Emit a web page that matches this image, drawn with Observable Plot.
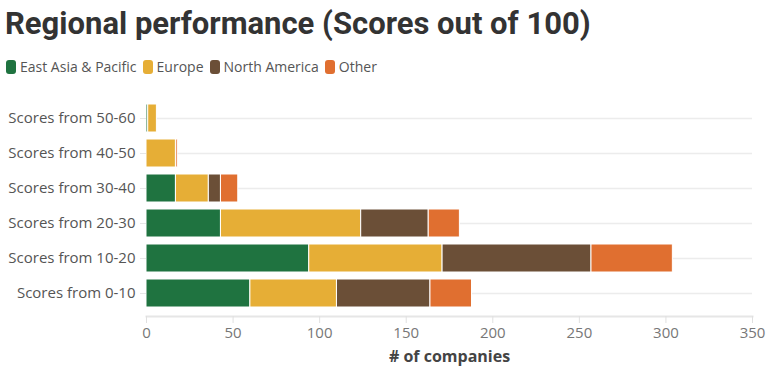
<!DOCTYPE html>
<html><head><meta charset="utf-8">
<script src="https://cdn.jsdelivr.net/npm/d3@7"></script>
<script src="https://cdn.jsdelivr.net/npm/@observablehq/plot@0.6"></script>
<style>
body{margin:0;background:#fff;width:771px;height:378px;position:relative;overflow:hidden;}
#title{position:absolute;left:5px;top:5px;font-family:Roboto,sans-serif;font-weight:700;font-size:31px;color:#333;white-space:nowrap;letter-spacing:0px;}
#legend{position:absolute;left:6px;top:57px;display:flex;align-items:center;font-family:"Open Sans",sans-serif;font-size:14px;color:#555;white-space:nowrap;}
#legend .item{display:flex;align-items:center;margin-right:6px;}
#legend .sw{width:10px;height:14px;border-radius:3px;margin-right:4px;}
#chart{position:absolute;left:0;top:88px;}
</style>
</head><body>
<div id="title">Regional performance (Scores out of 100)</div>
<div id="legend"></div>
<div id="chart"></div>
<script>
const categories = ["Scores from 0-10","Scores from 10-20","Scores from 20-30","Scores from 30-40","Scores from 40-50","Scores from 50-60"];
const regions = ["East Asia & Pacific","Europe","North America","Other"];
const colors = ["#1f7340","#e6ae36","#6b4f37","#e06f30"];
const eastAsiaPacific = [60,94,43,17,0,1];
const europe = [50,77,81,19,17,5];
const northAmerica = [54,86,39,7,0,0];
const other = [24,47,18,10,1,0];
const xTicks = [0,50,100,150,200,250,300,350];
const xLabel = "# of companies";

const series = [eastAsiaPacific, europe, northAmerica, other];
const data = [];
regions.forEach((r, i) => categories.forEach((c, j) => data.push({region: r, category: c, value: series[i][j]})));

const legend = document.getElementById("legend");
regions.forEach((r, i) => {
  const it = document.createElement("div"); it.className = "item";
  const sw = document.createElement("div"); sw.className = "sw"; sw.style.background = colors[i];
  const t = document.createElement("span"); t.textContent = r;
  it.appendChild(sw); it.appendChild(t); legend.appendChild(it);
});

const chart = Plot.plot({
  width: 771, height: 290,
  marginTop: 7, marginLeft: 146, marginRight: 19, marginBottom: 62,
  style: {fontFamily: "'Open Sans', sans-serif", fontSize: "15px", background: "white"},
  x: {domain: [0, 350], ticks: xTicks, label: null},
  y: {domain: categories.slice().reverse(), padding: 0.2, label: null},
  color: {domain: regions, range: colors},
  marks: [
    Plot.gridY({stroke: "#ececec", strokeOpacity: 1, strokeWidth: 1.5}),
    Plot.frame({anchor: "bottom", stroke: "#e6e6e6", strokeWidth: 2}),
    Plot.barX(data, Plot.stackX({x: "value", y: "category", fill: "region", stroke: "white", strokeWidth: 1})),
    Plot.axisX({ticks: xTicks, tickSize: 7, tickPadding: 4, stroke: "#e0e0e0", fill: "#777", fontSize: 15, label: null}),
    Plot.axisY({tickSize: 6, tickPadding: 5, stroke: "#e6e6e6", fill: "#555", fontSize: 15, label: null}),
    Plot.text([xLabel], {frameAnchor: "bottom", dy: 45, fontWeight: "bold", fontSize: 16, fill: "#444"})
  ]
});
document.getElementById("chart").appendChild(chart);
</script>
</body></html>
